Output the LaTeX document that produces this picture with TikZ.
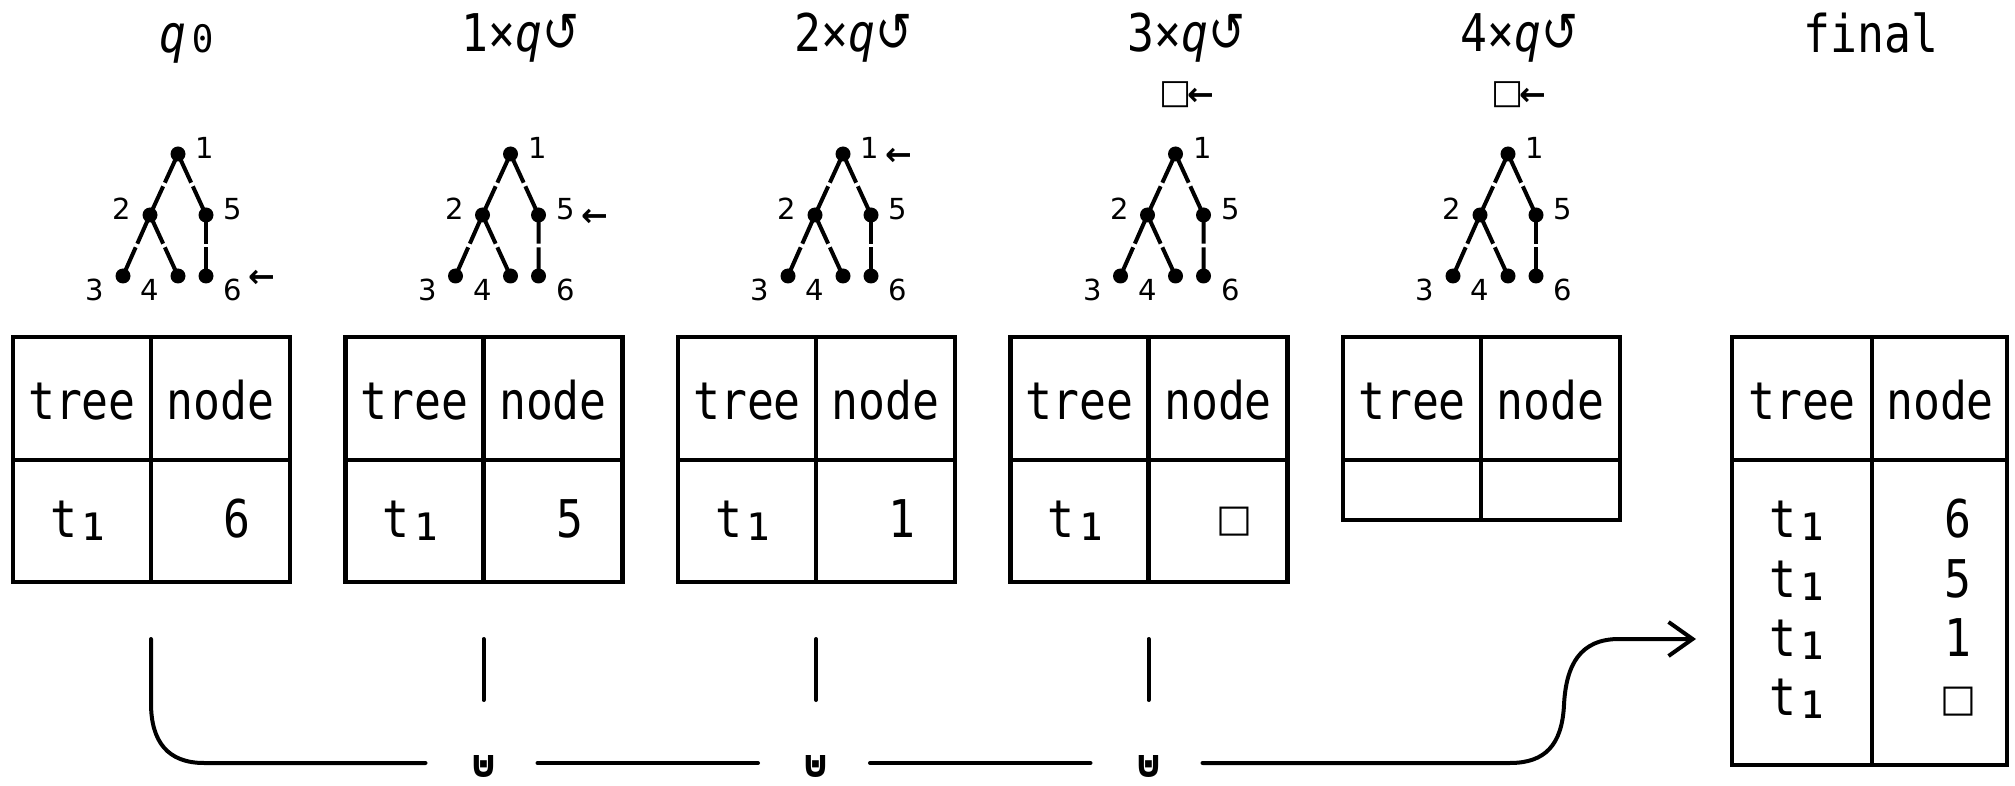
\documentclass[tikz,border=0pt]{standalone}
\usepackage{fontspec}
\usetikzlibrary{arrows.meta,calc}
\newfontfamily\monof[FakeStretch=0.86]{DejaVu Sans Mono}
\newfontfamily\labf{DejaVu Sans}
\newcommand\subone{\smash{\raisebox{-1.5pt}{\scalebox{1.3}{₁}}}}
\newcommand\mytree[2]{%
  \node[dot] (#2n1) at (#1,154) {};
  \node[dot] (#2n2) at (#1-28,215) {};
  \node[dot] (#2n5) at (#1+28,215) {};
  \node[dot] (#2n3) at (#1-55,276) {};
  \node[dot] (#2n4) at (#1,276) {};
  \node[dot] (#2n6) at (#1+28,276) {};
  \node[lab] (#2l1) at (#1+27,148) {1};
  \node[lab] (#2l2) at (#1-56,209) {2};
  \node[lab] (#2l5) at (#1+55,209) {5};
  \node[lab] (#2l3) at (#1-83,290) {3};
  \node[lab] (#2l4) at (#1-28,290) {4};
  \node[lab] (#2l6) at (#1+55,290) {6};
  \foreach \a/\b in {n1/n2,n1/n5,n2/n3,n2/n4,n5/n6}{
    \draw[edge] (#2\a.center) -- ($(#2\a.center)!0.47!(#2\b.center)$);
    \draw[edge] ($(#2\a.center)!0.53!(#2\b.center)$) -- (#2\b.center);
  }%
}
\begin{document}
\begin{tikzpicture}[x=0.5pt,y=-0.5pt,
  tbl/.style={line width=2.2pt},
  cell/.style={font=\monof\fontsize{26}{26}\selectfont, anchor=base, inner sep=0pt},
  sqr/.style={font=\labf\bfseries\fontsize{19}{19}\selectfont, anchor=base, inner sep=0pt},
  lab/.style={font=\labf\fontsize{14.5}{14.5}\selectfont, inner sep=0pt},
  ptr/.style={font=\labf\bfseries\fontsize{16}{16}\selectfont, inner sep=0pt},
  tsq/.style={font=\labf\bfseries\fontsize{17}{17}\selectfont, inner sep=0pt},
  dot/.style={circle, fill=black, inner sep=0pt, minimum size=7.5pt},
  edge/.style={line width=2pt},
  conn/.style={line width=2pt, line cap=round},
  usym/.style={font=\labf\bfseries\fontsize{19}{19}\selectfont, anchor=base, inner sep=0pt},
  ]
\useasboundingbox (0,0) rectangle (2015,786);

% titles
\node[cell] (title0) at (190,53) {{\itshape q}\scalebox{1.3}{₀}};
\foreach \k in {1,...,4}{
  \node[cell] (title\k) at ({520.5+333*(\k-1)},52) {\k×{\itshape q}{\labf\scalebox{0.85}[1.05]{↺}}};
}
\node[cell] (title5) at (1871,53) {final};

% trees
\mytree{178}{A}
\mytree{510.5}{B}
\mytree{843}{C}
\mytree{1175.5}{D}
\mytree{1508}{E}
\node[ptr] (pA) at (262,279) {←};
\node[ptr] (pB) at (594.5,218) {←};
\node[ptr] (pC) at (899,157) {←};
\node[tsq] (bxD) at (1175.5,95) {□};
\node[ptr] (pD) at (1200.5,97) {←};
\node[tsq] (bxE) at (1508,95) {□};
\node[ptr] (pE) at (1533,97) {←};

% tables
\foreach \k in {0,...,3}{
  \pgfmathsetmacro\L{13+332.5*\k}
  \draw[tbl] (\L,337) rectangle (\L+277,582);
  \draw[tbl] (\L+138,337) -- (\L+138,582);
  \draw[tbl] (\L,460) -- (\L+277,460);
  \node[cell] (h1\k) at (\L+69,420) {tree};
  \node[cell] (h2\k) at (\L+207.5,420) {node};
  \node[cell] (tr\k) at (\L+68,538) {t\subone};
}
\node[cell] (v0) at (237,538) {6};
\node[cell] (v1) at (569.5,538) {5};
\node[cell] (v2) at (902,538) {1};
\node[sqr] (v3) at (1234.5,531) {□};
% empty table
\draw[tbl] (1343,337) rectangle (1620,520);
\draw[tbl] (1481,337) -- (1481,520);
\draw[tbl] (1343,460) -- (1620,460);
\node[cell] (h14) at (1412,420) {tree};
\node[cell] (h24) at (1550.5,420) {node};
% final table
\draw[tbl] (1732,337) rectangle (2007,765);
\draw[tbl] (1872,337) -- (1872,765);
\draw[tbl] (1732,460) -- (2007,460);
\node[cell] (fh1) at (1802,420) {tree};
\node[cell] (fh2) at (1940,420) {node};
\node[cell] (ft1) at (1800,538) {t\subone};
\node[cell] (ft2) at (1800,597) {t\subone};
\node[cell] (ft3) at (1800,656) {t\subone};
\node[cell] (ft4) at (1800,715) {t\subone};
\node[cell] (fv1) at (1958,538) {6};
\node[cell] (fv2) at (1958,597) {5};
\node[cell] (fv3) at (1958,656) {1};
\node[sqr] (fv4) at (1958,711) {□};

% bottom connectors
\foreach \k in {0,...,3}{
  \coordinate (s\k) at ({151+332.5*\k},639);
  \coordinate (e\k) at ({151+332.5*\k},700);
  \coordinate (ul\k) at ({151+332.5*\k-58},763);
  \coordinate (ur\k) at ({151+332.5*\k+54},763);
}
\foreach \k in {1,2,3}{
  \node[usym] (u\k) at ({151+332.5*\k},777) {⊍};
  \draw[conn] (s\k) -- (e\k);
}
\coordinate (tip) at (1696,639);
\draw[conn] (s0) -- (151,703) .. controls (151,742) and (168,763) .. (204,763) -- (ul1);
\draw[conn] (ur1) -- (ul2);
\draw[conn] (ur2) -- (ul3);
\draw[conn,-{Straight Barb[length=12pt,width=17pt,line width=2pt]}] (ur3) -- (1510,763)
  .. controls (1545,763) and (1562,745) .. (1564,705)
  .. controls (1566,665) and (1580,639) .. (1619,639) -- (tip);
\end{tikzpicture}
\end{document}
